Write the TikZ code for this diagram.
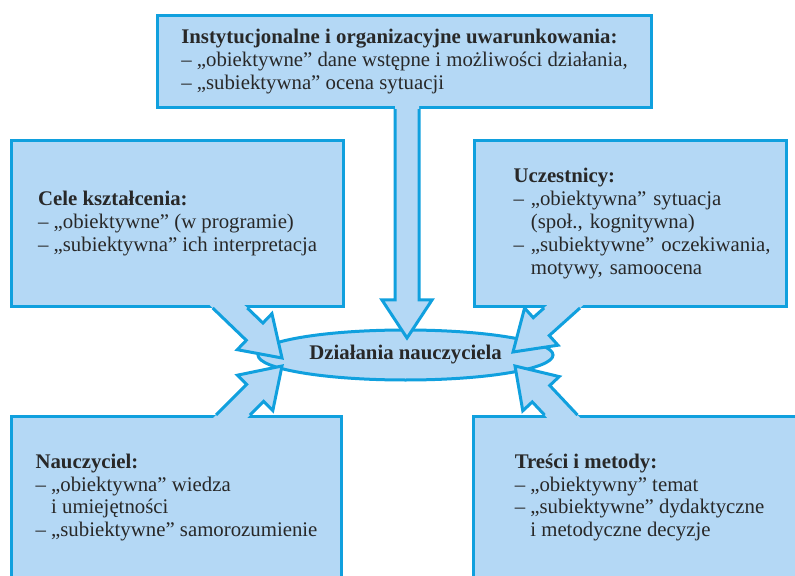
\documentclass[tikz,border=0pt]{standalone}
\usepackage{fontspec}
\setmainfont{Liberation Serif}
\usetikzlibrary{calc,positioning,shapes.geometric}

\definecolor{boxfill}{RGB}{180,216,245}
\definecolor{boxline}{RGB}{16,160,222}
\definecolor{txtgray}{RGB}{40,40,40}

% block arrow from the edge of a box to a tip: name, tip, base centre, box, side
\newcommand\callout[5]{%
  \coordinate (#1h)  at ($(#2)!19pt!(#3)$);
  \coordinate (#1sl) at ($(#1h)!6pt!90:(#2)$);
  \coordinate (#1sr) at ($(#1h)!6pt!-90:(#2)$);
  \coordinate (#1hl) at ($(#1h)!12.5pt!90:(#2)$);
  \coordinate (#1hr) at ($(#1h)!12.5pt!-90:(#2)$);
  \coordinate (#1pl) at ($(#3)!6pt!90:(#2)$);
  \coordinate (#1pr) at ($(#3)!6pt!-90:(#2)$);
  \coordinate (#1e1) at (#4.#5 west);
  \coordinate (#1e2) at (#4.#5 east);
  \coordinate (#1bl) at (intersection of #1sl--#1pl and #1e1--#1e2);
  \coordinate (#1br) at (intersection of #1sr--#1pr and #1e1--#1e2);
  \fill[arrowfill] ($(#1bl)!-4pt!(#1sl)$) -- (#1sl) -- (#1hl) -- (#2) -- (#1hr)
    -- (#1sr) -- ($(#1br)!-4pt!(#1sr)$) -- cycle;
  \draw[arrowline] (#1bl) -- (#1sl) -- (#1hl) -- (#2) -- (#1hr) -- (#1sr) -- (#1br);
}

\begin{document}
\begin{tikzpicture}[
  x=0.5pt, y=-0.5pt,
  box/.style={draw=boxline, fill=boxfill, line width=1.5pt, anchor=north west,
    align=left, inner sep=0pt, text=txtgray, font=\fontsize{10.4}{11.4}\selectfont},
  goal/.style={ellipse, draw=boxline, fill=boxfill, line width=1.5pt, inner sep=0pt,
    minimum width=147.5pt, minimum height=25pt, text=txtgray,
    font=\fontsize{10.4}{11.4}\selectfont\bfseries},
  arrowfill/.style={fill=boxfill},
  arrowline/.style={draw=boxline, line width=1.5pt, line join=miter}
]
\useasboundingbox (0,0) rectangle (795,576);
\clip (0,0) rectangle (795,576);

\node[goal] (dzialania) at (405.5,355) {Działania nauczyciela};

\node[box, minimum width=247pt, minimum height=46pt] (inst) at (156,14)
  {\textbf{Instytucjonalne i organizacyjne uwarunkowania:}\\
   – „obiektywne” dane wstępne i możliwości działania,\\
   – „subiektywna” ocena sytuacji};
\node[box, minimum width=166pt, minimum height=83pt] (cele) at (10,139)
  {\textbf{Cele kształcenia:}\\
   – „obiektywne” (w programie)\\
   – „subiektywna” ich interpretacja};
\node[box, minimum width=156pt, minimum height=83pt, text width=117pt] (ucz) at (473,139)
  {\textbf{Uczestnicy:}\\
   – „obiektywna” sytuacja\\
   \phantom{– }(społ., kognitywna)\\
   \mbox{– „subiektywne” oczekiwania,}\\
   \phantom{– }motywy, samoocena};
\node[box, minimum width=165pt, minimum height=81pt] (naucz) at (10,415)
  {\textbf{Nauczyciel:}\\
   – „obiektywna” wiedza\\
   \phantom{– }i umiejętności\\
   – „subiektywne” samorozumienie};
\node[box, minimum width=166pt, minimum height=81pt] (tresci) at (472,415)
  {\textbf{Treści i metody:}\\
   – „obiektywny” temat\\
   – „subiektywne” dydaktyczne\\
   \phantom{– }i metodyczne decyzje};

\coordinate (instB)   at ($(inst.south west)+(251,0)$);
\coordinate (celeB)   at ($(cele.south west)+(220,0)$);
\coordinate (uczB)    at ($(ucz.south west)+(89,0)$);
\coordinate (nauczB)  at ($(naucz.north west)+(223,0)$);
\coordinate (tresciB) at ($(tresci.north west)+(89,0)$);

\coordinate (instT)   at ($(dzialania.center)+(1.5,-17)$);
\coordinate (celeT)   at ($(dzialania.center)+(-123.5,3)$);
\coordinate (uczT)    at ($(dzialania.center)+(107.5,-3)$);
\coordinate (nauczT)  at ($(dzialania.center)+(-123.5,11)$);
\coordinate (tresciT) at ($(dzialania.center)+(109.5,11)$);

\callout{ai}{instT}{instB}{inst}{south}
\callout{ac}{celeT}{celeB}{cele}{south}
\callout{au}{uczT}{uczB}{ucz}{south}
\callout{an}{nauczT}{nauczB}{naucz}{north}
\callout{at}{tresciT}{tresciB}{tresci}{north}
\end{tikzpicture}
\end{document}
